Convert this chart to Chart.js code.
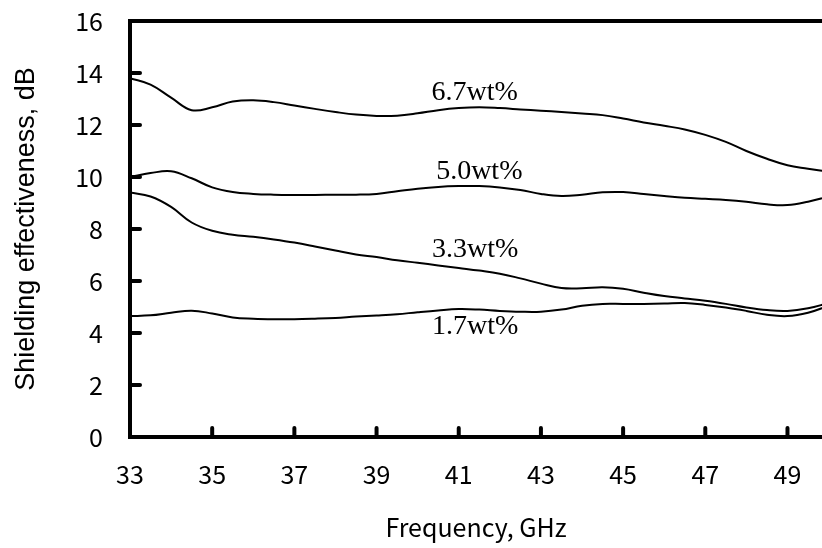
<!DOCTYPE html>
<html>
<head>
<meta charset="utf-8">
<script src="https://cdn.jsdelivr.net/npm/chart.js@4/dist/chart.umd.min.js"></script>
<style>
  html, body { margin: 0; padding: 0; background: #fff; overflow: hidden; }
  canvas { display: block; }
</style>
</head>
<body>
<canvas id="c" width="822" height="548"></canvas>
<script>
// ---- data ----
const freq = [33, 33.5, 34, 34.5, 35, 35.5, 36, 36.5, 37, 37.5, 38, 38.5, 39, 39.5, 40, 40.5, 41, 41.5,
              42, 42.5, 43, 43.5, 44, 44.5, 45, 45.5, 46, 46.5, 47, 47.5, 48, 48.5, 49, 49.5, 50];
const se67 = [13.8, 13.55, 13.05, 12.57, 12.68, 12.9, 12.95, 12.88, 12.75, 12.62, 12.5, 12.4, 12.35, 12.36, 12.45, 12.57, 12.65, 12.68,
              12.65, 12.6, 12.55, 12.5, 12.44, 12.38, 12.25, 12.1, 11.97, 11.83, 11.62, 11.35, 11.0, 10.7, 10.45, 10.32, 10.2];
const se50 = [10.0, 10.15, 10.22, 9.95, 9.6, 9.42, 9.35, 9.32, 9.31, 9.31, 9.32, 9.32, 9.35, 9.45, 9.55, 9.62, 9.65, 9.65,
              9.6, 9.5, 9.35, 9.27, 9.32, 9.41, 9.42, 9.35, 9.27, 9.2, 9.16, 9.12, 9.05, 8.95, 8.92, 9.05, 9.25];
const se33 = [9.4, 9.25, 8.85, 8.25, 7.93, 7.78, 7.7, 7.6, 7.48, 7.33, 7.17, 7.02, 6.92, 6.8, 6.7, 6.6, 6.5, 6.4,
              6.28, 6.1, 5.9, 5.73, 5.72, 5.76, 5.7, 5.55, 5.42, 5.33, 5.24, 5.12, 4.98, 4.88, 4.85, 4.95, 5.15];
const se17 = [4.65, 4.68, 4.78, 4.86, 4.75, 4.6, 4.55, 4.53, 4.53, 4.55, 4.58, 4.63, 4.67, 4.72, 4.8, 4.87, 4.92, 4.9,
              4.85, 4.82, 4.82, 4.9, 5.05, 5.12, 5.12, 5.12, 5.13, 5.15, 5.08, 4.98, 4.85, 4.7, 4.65, 4.78, 5.05];
const seriesNames = ['6.7wt%', '5.0wt%', '3.3wt%', '1.7wt%'];
const xTicks = [33, 35, 37, 39, 41, 43, 45, 47, 49];
const yTicks = [0, 2, 4, 6, 8, 10, 12, 14, 16];
const xTitle = 'Frequency, GHz';
const yTitle = 'Shielding effectiveness, dB';

// label anchors (data coordinates) for the in-plot series labels
const labelAnchors = [
  {x: 41.39, y: 13.23},
  {x: 41.5,  y: 10.19},
  {x: 41.4,  y: 7.19},
  {x: 41.4,  y: 4.23}
];

const seriesValues = [se67, se50, se33, se17];
const datasets = seriesValues.map((vals, k) => ({
  label: seriesNames[k],
  data: freq.map((f, i) => ({x: f, y: vals[i]})),
  borderColor: '#000',
  borderWidth: 2,
  pointRadius: 0,
  fill: false,
  tension: 0.4
}));

const tickFont = {family: '"Noto Sans CJK JP", "Noto Sans", sans-serif', size: 25};

const framePlugin = {
  id: 'frame',
  afterDatasetsDraw(chart) {
    const {ctx, chartArea: a, scales: {x, y}} = chart;
    ctx.save();
    ctx.strokeStyle = '#000';
    ctx.lineWidth = 4;
    ctx.beginPath();
    ctx.moveTo(a.left, a.top);
    ctx.lineTo(a.right, a.top);
    ctx.stroke();
    ctx.lineCap = 'round';
    yTicks.forEach(v => {
      if (v === 0 || v === 16) return;
      const py = y.getPixelForValue(v);
      ctx.beginPath();
      ctx.moveTo(a.left, py);
      ctx.lineTo(a.left + 10, py);
      ctx.stroke();
    });
    xTicks.forEach(v => {
      if (v === 33) return;
      const px = x.getPixelForValue(v);
      ctx.beginPath();
      ctx.moveTo(px, a.bottom);
      ctx.lineTo(px, a.bottom - 9);
      ctx.stroke();
    });
    ctx.fillStyle = '#000';
    ctx.font = '28px "Liberation Serif", "Times New Roman", serif';
    ctx.textAlign = 'center';
    ctx.textBaseline = 'middle';
    seriesNames.forEach((n, k) => {
      ctx.fillText(n, x.getPixelForValue(labelAnchors[k].x), y.getPixelForValue(labelAnchors[k].y));
    });
    ctx.restore();
  }
};

new Chart(document.getElementById('c'), {
  type: 'line',
  data: {datasets},
  options: {
    responsive: false,
    animation: false,
    devicePixelRatio: 1,
    layout: {autoPadding: false, padding: {left: 0, top: 21, right: 0, bottom: 0}},
    plugins: {legend: {display: false}, tooltip: {enabled: false}},
    scales: {
      x: {
        type: 'linear',
        min: 33,
        max: 49.84,
        afterBuildTicks: s => { s.ticks = xTicks.map(v => ({value: v})); },
        afterFit: s => { s.height = 111; s.paddingLeft = 0; s.paddingRight = 0; },
        grid: {display: true, drawOnChartArea: false, drawTicks: false},
        border: {display: true, width: 4, color: '#000'},
        ticks: {color: '#000', font: tickFont, padding: 22, maxRotation: 0, autoSkip: false},
        title: {display: true, text: xTitle, color: '#000',
                font: {family: '"Noto Sans CJK JP", "Noto Sans", sans-serif', size: 25},
                padding: {top: 0, bottom: 6}}
      },
      y: {
        type: 'linear',
        min: 0,
        max: 16,
        afterBuildTicks: s => { s.ticks = yTicks.map(v => ({value: v})); },
        afterFit: s => { s.width = 130; s.paddingTop = 0; s.paddingBottom = 0; },
        grid: {display: true, drawOnChartArea: false, drawTicks: false},
        border: {display: true, width: 4, color: '#000'},
        ticks: {color: '#000', font: tickFont, padding: 27},
        title: {display: true, text: yTitle, color: '#000',
                font: {family: '"Liberation Sans", Arial, sans-serif', size: 27},
                padding: {top: 10, bottom: 0}}
      }
    }
  },
  plugins: [framePlugin]
});
</script>
</body>
</html>
